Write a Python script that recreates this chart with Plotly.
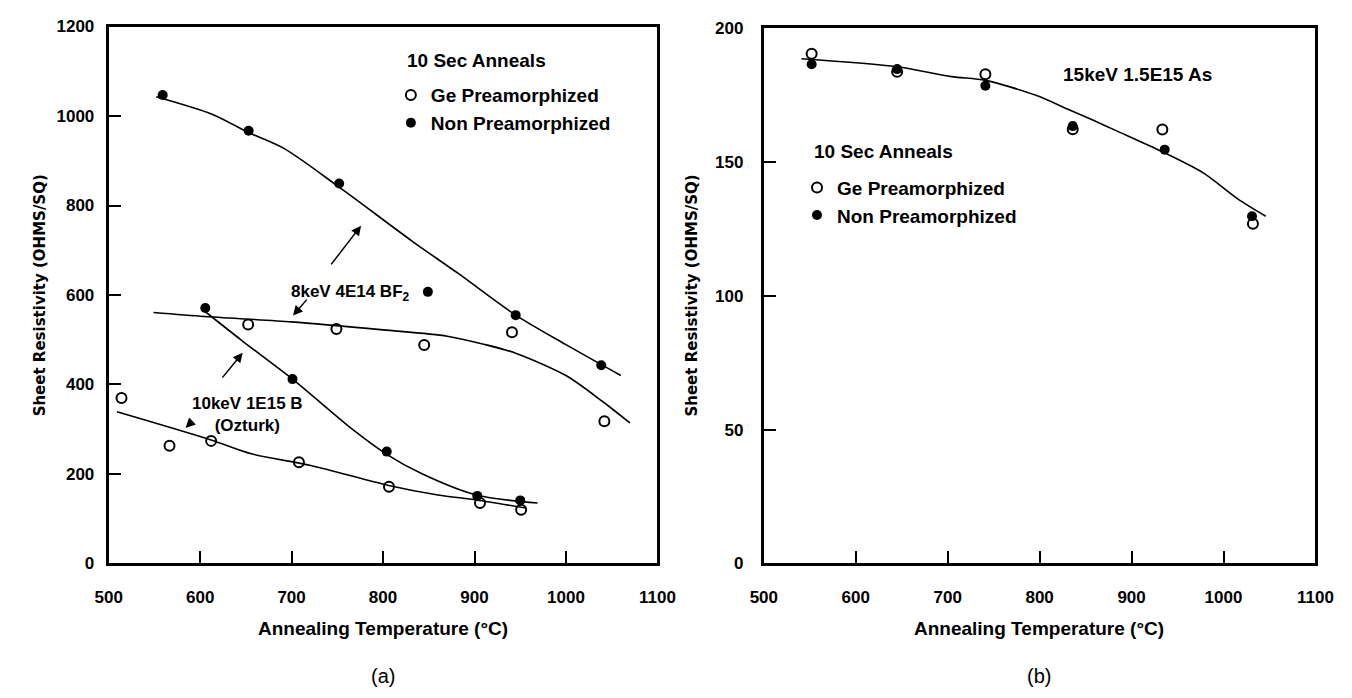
import plotly.graph_objects as go

# ---------------- data: panel (a) ----------------
bf2_ge_x = [652.5, 749, 845, 941, 1042]
bf2_ge_y = [534, 524, 488, 517, 318]
bf2_non_x = [559, 653, 752, 849, 945, 1038.6]
bf2_non_y = [1047, 967, 849, 607, 555, 443]
b_non_x = [605.6, 701, 804, 903, 950]
b_non_y = [571, 412, 250, 151, 141]
b_ge_x = [514, 566.5, 612, 708, 806.5, 906, 951]
b_ge_y = [370, 263, 274, 226, 171.5, 135, 120]

# hand-drawn fit curves
fit_bf2_non_x = [552, 613, 653, 692, 752, 832, 883, 945, 1000, 1060]
fit_bf2_non_y = [1043, 1004, 963, 927, 841, 720, 647, 555, 489, 420]
fit_bf2_ge_x = [549, 605, 700, 800, 870, 910, 945, 1000, 1040, 1070]
fit_bf2_ge_y = [561, 552, 540, 522, 508, 490, 470, 420, 362, 314]
fit_b_non_x = [606, 647, 701, 767, 804, 842, 902, 969]
fit_b_non_y = [562, 496, 412, 299, 244, 201, 153, 135]
fit_b_ge_x = [509, 612, 656, 721, 805, 860, 902, 956]
fit_b_ge_y = [339, 276, 245, 219, 175, 153, 142, 124]

# ---------------- data: panel (b) ----------------
as_ge_x = [552, 645, 741, 836, 933.5, 1032]
as_ge_y = [190.5, 183.8, 182.9, 162.3, 162.2, 127]
as_non_x = [552, 645, 741, 836, 936, 1031]
as_non_y = [186.6, 184.8, 178.6, 163.5, 154.7, 129.8]
fit_as_x = [541, 645, 704, 741, 796, 832, 859, 882, 933, 978, 1015, 1046]
fit_as_y = [188.7, 185.7, 182, 180.6, 175, 169.6, 165.6, 162, 154, 146, 136.4, 129.8]

x_ticks = [500, 600, 700, 800, 900, 1000, 1100]
y_ticks_a = [0, 200, 400, 600, 800, 1000, 1200]
y_ticks_b = [0, 50, 100, 150, 200]

W, H = 1352, 698
FONT = "Liberation Sans, Arial, sans-serif"


def px(x):
    return x / W


def py(y):
    return 1 - y / H


fig = go.Figure()

open_marker = dict(symbol="circle-open", size=10, color="black", line=dict(width=2, color="black"))
fill_marker = dict(symbol="circle", size=10, color="black", line=dict(width=0))
line_style = dict(color="black", width=1.6, shape="spline", smoothing=0.8)

# panel (a) curves
for fx, fy in [(fit_bf2_non_x, fit_bf2_non_y), (fit_bf2_ge_x, fit_bf2_ge_y),
               (fit_b_non_x, fit_b_non_y), (fit_b_ge_x, fit_b_ge_y)]:
    fig.add_trace(go.Scatter(x=fx, y=fy, mode="lines", line=line_style,
                             showlegend=False, hoverinfo="skip", xaxis="x", yaxis="y"))
# panel (a) points
fig.add_trace(go.Scatter(x=bf2_ge_x, y=bf2_ge_y, mode="markers", marker=open_marker,
                         name="Ge Preamorphized", legend="legend", legendgroup="a1", xaxis="x", yaxis="y"))
fig.add_trace(go.Scatter(x=bf2_non_x, y=bf2_non_y, mode="markers", marker=fill_marker,
                         name="Non Preamorphized", legend="legend", legendgroup="a2", xaxis="x", yaxis="y"))
fig.add_trace(go.Scatter(x=b_ge_x, y=b_ge_y, mode="markers", marker=open_marker,
                         showlegend=False, xaxis="x", yaxis="y"))
fig.add_trace(go.Scatter(x=b_non_x, y=b_non_y, mode="markers", marker=fill_marker,
                         showlegend=False, xaxis="x", yaxis="y"))

# panel (b)
fig.add_trace(go.Scatter(x=fit_as_x, y=fit_as_y, mode="lines", line=line_style,
                         showlegend=False, hoverinfo="skip", xaxis="x2", yaxis="y2"))
fig.add_trace(go.Scatter(x=as_ge_x, y=as_ge_y, mode="markers", marker=open_marker,
                         name="Ge Preamorphized", legend="legend2", legendgroup="b1", xaxis="x2", yaxis="y2"))
fig.add_trace(go.Scatter(x=as_non_x, y=as_non_y, mode="markers", marker=fill_marker,
                         name="Non Preamorphized", legend="legend2", legendgroup="b2", xaxis="x2", yaxis="y2"))

tickfont = dict(family=FONT, size=17, color="black", weight="bold")
common_x = dict(range=[500, 1100], tickvals=x_ticks, ticks="inside", ticklen=12, tickwidth=1.5,
                tickcolor="black", showline=True, linewidth=3, linecolor="black", mirror=True,
                showgrid=False, zeroline=False, tickfont=tickfont, ticklabelstandoff=16)
common_y = dict(ticks="inside", ticklen=12, tickwidth=1.5, tickcolor="black", showline=True,
                linewidth=3, linecolor="black", mirror=True, showgrid=False, zeroline=False,
                tickfont=tickfont)

legfont = dict(family=FONT, size=19, color="black", weight="bold")

fig.update_layout(
    width=W, height=H, margin=dict(l=0, r=0, t=0, b=0),
    paper_bgcolor="white", plot_bgcolor="white",
    xaxis=dict(domain=[px(97), px(659)], anchor="y", **common_x),
    yaxis=dict(domain=[py(570), py(18)], anchor="x", range=[0, 1200], tickvals=y_ticks_a,
               ticklabelstandoff=8, **common_y),
    xaxis2=dict(domain=[px(768), px(1333)], anchor="y2", **common_x),
    yaxis2=dict(domain=[py(570), py(20)], anchor="x2", range=[0, 200], tickvals=y_ticks_b,
                ticklabelstandoff=14, **common_y),
    legend=dict(x=px(386), y=py(69), xanchor="left", yanchor="top", font=legfont,
                bgcolor="rgba(0,0,0,0)", tracegroupgap=0),
    legend2=dict(x=px(802), y=py(164), xanchor="left", yanchor="top", font=legfont,
                 bgcolor="rgba(0,0,0,0)", tracegroupgap=0),
    showlegend=True,
)

ann = []
# legend headers
ann.append(dict(text="10 Sec Anneals", x=px(400), y=py(53), xref="paper", yref="paper",
                xanchor="left", yanchor="middle", showarrow=False, font=legfont))
ann.append(dict(text="10 Sec Anneals", x=px(817), y=py(147), xref="paper", yref="paper",
                xanchor="left", yanchor="middle", showarrow=False, font=legfont))
# labels inside panel (a)
labfont = dict(family=FONT, size=17, color="black", weight="bold")
ann.append(dict(text="8keV 4E14 BF<sub>2</sub>", x=764, y=604, xref="x", yref="y",
                showarrow=False, font=labfont))
ann.append(dict(text="10keV 1E15 B<br>(Ozturk)", x=652, y=332, xref="x", yref="y",
                showarrow=False, font=labfont))
ann.append(dict(text="15keV 1.5E15 As", x=906, y=182.9, xref="x2", yref="y2",
                showarrow=False, font=legfont))
# arrows (head, tail)
arrows = [((776, 755), (742, 665)), ((701.5, 554), (718, 593)),
          ((646.5, 471), (623, 412)), ((584, 303), (593, 321))]
for (hx, hy), (tx, ty) in arrows:
    ann.append(dict(x=hx, y=hy, ax=tx, ay=ty, xref="x", yref="y", axref="x", ayref="y",
                    text="", showarrow=True, arrowhead=2, arrowsize=1.3, arrowwidth=1.5,
                    arrowcolor="black", standoff=0, startstandoff=0))
# axis titles
xtfont = dict(family=FONT, size=19, color="black", weight="bold")
ytfont = dict(family="DejaVu Sans, sans-serif", size=15, color="black", weight="bold")
for cx in (378, 1050):
    ann.append(dict(text="Annealing Temperature (°C)", x=px(cx), y=py(637), xref="paper", yref="paper",
                    xanchor="center", yanchor="middle", showarrow=False, font=xtfont))
for cx, cy in ((27, 294), (694, 295)):
    ann.append(dict(text="Sheet Resistivity (OHMS/SQ)", x=px(cx), y=py(cy), xref="paper", yref="paper",
                    xanchor="center", yanchor="middle", showarrow=False, textangle=-90, font=ytfont))
# panel labels
for cx, lab in ((378, "(a)"), (1050, "(b)")):
    ann.append(dict(text=lab, x=px(cx), y=py(686), xref="paper", yref="paper",
                    xanchor="center", yanchor="middle", showarrow=False,
                    font=dict(family=FONT, size=20, color="black")))

fig.update_layout(annotations=ann)
fig.write_html("out.html")
